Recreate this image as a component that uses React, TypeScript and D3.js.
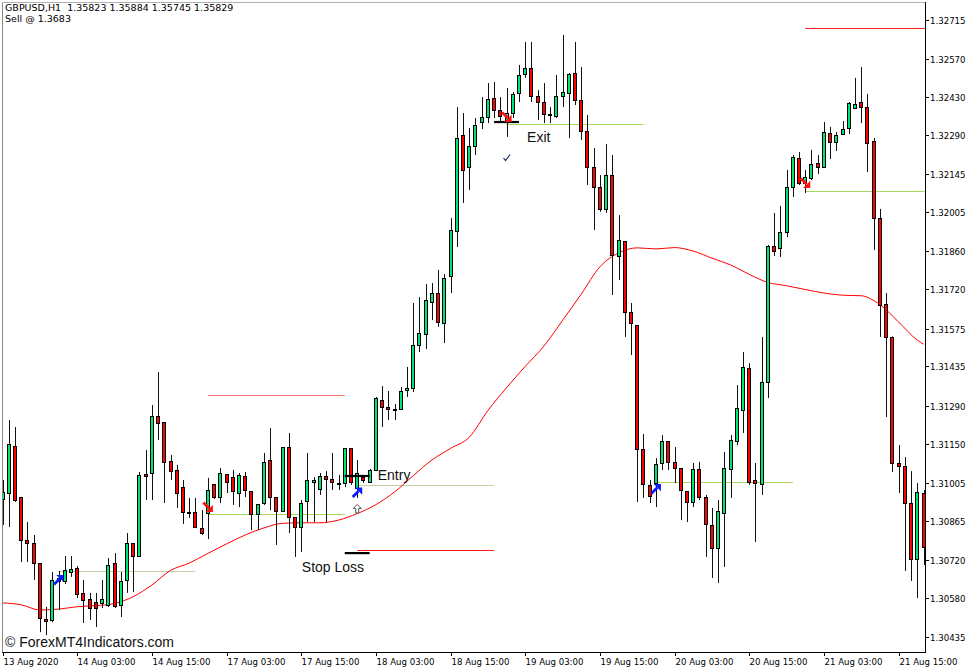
import React from 'react';
import * as d3 from 'd3';

// ---- GBPUSD H1 candles (bar 0 = 13 Aug 2020 15:00) ----
const open = [
  1.30945, 1.30967, 1.31141, 1.30952, 1.30793, 1.30782, 1.30708, 1.30501, 1.30498, 1.30642,
  1.30642, 1.30675, 1.30690, 1.30598, 1.30575, 1.30564, 1.30561, 1.30553, 1.30708, 1.30553,
  1.30646, 1.30782, 1.30734, 1.31037, 1.31041, 1.31252, 1.31229, 1.31085, 1.31052, 1.30989,
  1.30897, 1.30897, 1.30838, 1.30893, 1.31000, 1.30952, 1.31037, 1.31026, 1.30967, 1.31030,
  1.30974, 1.30889, 1.30930, 1.31089, 1.30952, 1.30901, 1.31137, 1.30878, 1.30841, 1.30938,
  1.31008, 1.30982, 1.31030, 1.31019, 1.31004, 1.31004, 1.31133, 1.30986, 1.31026, 1.31008,
  1.31052, 1.31311, 1.31285, 1.31277, 1.31277, 1.31348, 1.31355, 1.31514, 1.31555, 1.31673,
  1.31706, 1.31595, 1.31769, 1.31935, 1.32290, 1.32172, 1.32249, 1.32338, 1.32357, 1.32427,
  1.32382, 1.32345, 1.32371, 1.32445, 1.32515, 1.32538, 1.32434, 1.32412, 1.32368, 1.32360,
  1.32434, 1.32445, 1.32519, 1.32419, 1.32305, 1.32172, 1.32098, 1.32017, 1.32142, 1.31843,
  1.31898, 1.31636, 1.31588, 1.31130, 1.30997, 1.31004, 1.31078, 1.31159, 1.31082, 1.31059,
  1.30974, 1.30934, 1.31056, 1.30952, 1.30849, 1.30764, 1.30893, 1.31056, 1.31159, 1.31274,
  1.31429, 1.31015, 1.31000, 1.31377, 1.31880, 1.31872, 1.31932, 1.32098, 1.32205, 1.32113,
  1.32131, 1.32187, 1.32172, 1.32297, 1.32264, 1.32294, 1.32316, 1.32390, 1.32412, 1.32393,
  1.32268, 1.31983, 1.31666, 1.31544, 1.31078, 1.31067, 1.30930, 1.30723, 1.30967,
];
const high = [
  1.31015, 1.31237, 1.31211, 1.30952, 1.30860, 1.30812, 1.30708, 1.30546, 1.30675, 1.30679,
  1.30734, 1.30734, 1.30697, 1.30646, 1.30598, 1.30598, 1.30646, 1.30727, 1.30745, 1.30675,
  1.30819, 1.30782, 1.31045, 1.31126, 1.31292, 1.31414, 1.31229, 1.31108, 1.31071, 1.31015,
  1.30949, 1.30949, 1.30904, 1.31023, 1.31000, 1.31059, 1.31037, 1.31052, 1.31041, 1.31045,
  1.30974, 1.30926, 1.31115, 1.31207, 1.30952, 1.31137, 1.31189, 1.30878, 1.30941, 1.31115,
  1.31026, 1.31041, 1.31048, 1.31115, 1.31034, 1.31133, 1.31133, 1.31089, 1.31030, 1.31056,
  1.31322, 1.31362, 1.31344, 1.31296, 1.31359, 1.31433, 1.31669, 1.31691, 1.31739, 1.31743,
  1.31791, 1.31776, 1.31983, 1.32393, 1.32371, 1.32316, 1.32353, 1.32430, 1.32482, 1.32486,
  1.32430, 1.32464, 1.32449, 1.32549, 1.32634, 1.32634, 1.32456, 1.32482, 1.32393, 1.32512,
  1.32660, 1.32519, 1.32634, 1.32541, 1.32364, 1.32242, 1.32142, 1.32257, 1.32216, 1.31994,
  1.31898, 1.31669, 1.31588, 1.31185, 1.31015, 1.31096, 1.31181, 1.31159, 1.31137, 1.31059,
  1.30974, 1.31078, 1.31082, 1.30960, 1.30912, 1.30941, 1.31119, 1.31181, 1.31366, 1.31488,
  1.31447, 1.31078, 1.31544, 1.31884, 1.32002, 1.32028, 1.32161, 1.32216, 1.32227, 1.32161,
  1.32235, 1.32216, 1.32338, 1.32320, 1.32301, 1.32342, 1.32412, 1.32501, 1.32541, 1.32442,
  1.32279, 1.32017, 1.31706, 1.31546, 1.31144, 1.31100, 1.31048, 1.31004, 1.30978,
];
const low = [
  1.30849, 1.30841, 1.30934, 1.30712, 1.30712, 1.30646, 1.30453, 1.30442, 1.30490, 1.30535,
  1.30631, 1.30657, 1.30579, 1.30487, 1.30498, 1.30472, 1.30542, 1.30546, 1.30542, 1.30509,
  1.30598, 1.30601, 1.30731, 1.30941, 1.30941, 1.31163, 1.30930, 1.31015, 1.30912, 1.30853,
  1.30875, 1.30838, 1.30812, 1.30797, 1.30945, 1.30930, 1.30967, 1.30923, 1.30915, 1.30952,
  1.30830, 1.30830, 1.30923, 1.30904, 1.30775, 1.30897, 1.30819, 1.30731, 1.30749, 1.30860,
  1.30860, 1.30960, 1.30860, 1.30978, 1.30978, 1.30989, 1.30997, 1.30949, 1.31004, 1.31008,
  1.31048, 1.31211, 1.31237, 1.31237, 1.31274, 1.31322, 1.31340, 1.31488, 1.31499, 1.31606,
  1.31581, 1.31521, 1.31706, 1.31876, 1.32039, 1.32087, 1.32216, 1.32312, 1.32334, 1.32353,
  1.32338, 1.32283, 1.32353, 1.32412, 1.32501, 1.32412, 1.32345, 1.32334, 1.32334, 1.32353,
  1.32393, 1.32279, 1.32401, 1.32272, 1.32105, 1.31939, 1.32006, 1.32002, 1.31699, 1.31754,
  1.31544, 1.31477, 1.30934, 1.30949, 1.30930, 1.30915, 1.31052, 1.31052, 1.31004, 1.30867,
  1.30860, 1.30915, 1.30941, 1.30731, 1.30653, 1.30635, 1.30694, 1.30949, 1.31144, 1.31189,
  1.30997, 1.30786, 1.30960, 1.31318, 1.31843, 1.31839, 1.31913, 1.32061, 1.32105, 1.32076,
  1.32124, 1.32146, 1.32170, 1.32201, 1.32231, 1.32290, 1.32294, 1.32388, 1.32334, 1.32153,
  1.31865, 1.31544, 1.31248, 1.31045, 1.30967, 1.30679, 1.30642, 1.30579, 1.30701,
];
const close = [
  1.30971, 1.31148, 1.30941, 1.30793, 1.30782, 1.30708, 1.30505, 1.30494, 1.30646, 1.30653,
  1.30683, 1.30686, 1.30594, 1.30572, 1.30542, 1.30542, 1.30575, 1.30701, 1.30550, 1.30642,
  1.30782, 1.30734, 1.31034, 1.31030, 1.31252, 1.31226, 1.31082, 1.31048, 1.30967, 1.30897,
  1.30893, 1.30841, 1.30819, 1.30978, 1.30952, 1.31041, 1.31008, 1.30974, 1.31034, 1.30978,
  1.30889, 1.30926, 1.31082, 1.30952, 1.30901, 1.31137, 1.30878, 1.30841, 1.30930, 1.31015,
  1.31015, 1.31030, 1.31019, 1.31008, 1.31005, 1.31133, 1.31008, 1.31041, 1.31015, 1.31052,
  1.31318, 1.31285, 1.31277, 1.31278, 1.31344, 1.31355, 1.31514, 1.31558, 1.31680, 1.31706,
  1.31599, 1.31762, 1.31939, 1.32279, 1.32161, 1.32249, 1.32327, 1.32357, 1.32423, 1.32382,
  1.32360, 1.32371, 1.32442, 1.32512, 1.32538, 1.32434, 1.32412, 1.32368, 1.32369, 1.32434,
  1.32449, 1.32515, 1.32419, 1.32305, 1.32172, 1.32098, 1.32017, 1.32142, 1.31847, 1.31902,
  1.31636, 1.31595, 1.31130, 1.31000, 1.30956, 1.31074, 1.31159, 1.31082, 1.31059, 1.30978,
  1.30934, 1.31056, 1.30952, 1.30853, 1.30764, 1.30901, 1.31059, 1.31163, 1.31281, 1.31433,
  1.31008, 1.31004, 1.31377, 1.31880, 1.31861, 1.31932, 1.32098, 1.32209, 1.32113, 1.32135,
  1.32183, 1.32172, 1.32301, 1.32264, 1.32290, 1.32312, 1.32408, 1.32405, 1.32393, 1.32260,
  1.31983, 1.31662, 1.31544, 1.31078, 1.31067, 1.30930, 1.30723, 1.30971, 1.30768,
];

// ---- moving average (sampled at bars) ----
const maIdx = [0, 3, 6, 9, 12, 15, 18, 21, 24, 27, 30, 33, 36, 39, 42, 45, 48, 51, 54, 57, 60, 63, 66, 69, 72,
  75, 78, 81, 84, 87, 90, 93, 96, 99, 102, 105, 108, 111, 114, 117, 120, 123, 126, 129, 132, 135, 138, 141, 144, 147, 148];
const maVal = [1.30561, 1.30554, 1.30535, 1.30538, 1.30547, 1.30551, 1.30559, 1.30584, 1.30627, 1.30681,
  1.30708, 1.30744, 1.30779, 1.30812, 1.30838, 1.30855, 1.30857, 1.30857, 1.30867, 1.30891,
  1.30924, 1.30971, 1.31031, 1.31089, 1.31132, 1.31173, 1.31272, 1.31356, 1.31435, 1.31510,
  1.31605, 1.31702, 1.31803, 1.31854, 1.31873, 1.31869, 1.31874, 1.31861, 1.31835, 1.31810,
  1.31775, 1.31745, 1.31733, 1.31719, 1.31706, 1.31698, 1.31696, 1.31663, 1.31599, 1.31532, 1.31517];

// ---- axes ----
const priceTicks = [1.32715, 1.32570, 1.32430, 1.32290, 1.32145, 1.32005, 1.31860, 1.31720, 1.31575,
  1.31435, 1.31290, 1.31150, 1.31005, 1.30865, 1.30720, 1.30580, 1.30435];
const timeTickIdx = [0, 12, 24, 36, 48, 60, 72, 84, 96, 108, 120, 132, 144];
const timeTickLabels = ['13 Aug 2020', '14 Aug 03:00', '14 Aug 15:00', '17 Aug 03:00', '17 Aug 15:00',
  '18 Aug 03:00', '18 Aug 15:00', '19 Aug 03:00', '19 Aug 15:00', '20 Aug 03:00', '20 Aug 15:00',
  '21 Aug 03:00', '21 Aug 15:00'];

// ---- trade levels ----
const levelFrom = [9, 33, 33, 57, 57, 81, 105, 129, 129];
const levelTo = [31, 55, 55, 79, 79, 103, 127, 148.2, 148.2];
const levelPrice = [1.30679, 1.31329, 1.30889, 1.30756, 1.30997, 1.32330, 1.31007, 1.32084, 1.32684];
const levelKind = ['pale', 'lightred', 'green', 'red', 'pale', 'green', 'green', 'green', 'red'];

const markerFrom = [55, 55, 79];
const markerTo = [59, 59, 83];
const markerPrice = [1.31030, 1.30745, 1.32338];

const arrowIdx = [9, 33, 57, 57, 81, 81, 105, 129];
const arrowPrice = [1.30646, 1.30915, 1.30969, 1.30908, 1.32357, 1.32205, 1.30982, 1.32113];
const arrowKind = ['buy', 'sell', 'buy', 'hollow', 'sell', 'check', 'buy', 'sell'];

const noteText = ['Entry', 'Stop Loss', 'Exit'];
const noteIdx = [60.3, 48.1, 84.3];
const notePrice = [1.31015, 1.30675, 1.32266];

const header1 = 'GBPUSD,H1  1.35823 1.35884 1.35745 1.35829';
const header2 = 'Sell @ 1.3683';
const copyright = '\u00A9 ForexMT4Indicators.com';

const levelColor: Record<string, string> = {
  pale: '#c3d0a8',
  lightred: '#f07070',
  green: '#a9d65a',
  red: '#ff1a1a',
};

export default function App() {
  const W = 977, H = 672;
  const L = 2, R = 925, T = 2, B = 652;
  const x = d3.scaleLinear().domain([0, 148]).range([2.5, 923.5]);
  const y = d3.scaleLinear().domain([1.30435, 1.32715]).range([637, 20]);
  const axisFont = '"DejaVu Sans", Verdana, sans-serif';
  const textFont = '"Liberation Sans", Arial, sans-serif';

  const maPath = d3.line<number>()
    .x((_, k) => x(maIdx[k]))
    .y((d) => y(d))
    .curve(d3.curveMonotoneX)(maVal) || '';

  const bull = '#00e676';
  const bear = '#ff0000';

  const arrowShape = (kind: string, k: number) => {
    const cx = x(arrowIdx[k]);
    const cy = y(arrowPrice[k]);
    if (kind === 'buy') {
      return (
        <g key={'a' + k} transform={`translate(${cx},${cy})`}>
          <path d="M-4.5,4.5 L1.2,-1.2" stroke="#0a1aff" strokeWidth={2.8} />
          <path d="M5,-5 L5,2.2 L-2.2,-5 Z" fill="#0a1aff" />
        </g>
      );
    }
    if (kind === 'sell') {
      return (
        <g key={'a' + k} transform={`translate(${cx},${cy})`}>
          <path d="M-4.5,-4.5 L1.2,1.2" stroke="#ff1010" strokeWidth={2.8} />
          <path d="M5,5 L5,-2.2 L-2.2,5 Z" fill="#ff1010" />
        </g>
      );
    }
    if (kind === 'hollow') {
      return (
        <path key={'a' + k} transform={`translate(${cx},${cy})`}
          d="M0,-4.5 L4,-0.5 L1.5,-0.5 L1.5,4 L-1.5,4 L-1.5,-0.5 L-4,-0.5 Z"
          fill="#fff" stroke="#555" strokeWidth={1} />
      );
    }
    return (
      <path key={'a' + k} transform={`translate(${cx},${cy})`}
        d="M-3,0 L-1,2.5 L3.5,-3.5" fill="none" stroke="#1a2a6a" strokeWidth={1.2} />
    );
  };

  return (
    <svg width={W} height={H} style={{ position: 'absolute', left: 0, top: 0, background: '#fff' }}>
      <defs>
        <clipPath id="plotClip">
          <rect x={L} y={T} width={R - L} height={B - T} />
        </clipPath>
      </defs>
      <rect x={0} y={0} width={W} height={H} fill="#fff" />

      <g clipPath="url(#plotClip)">
        {/* trade levels */}
        {levelPrice.map((p, k) => (
          <line key={'lv' + k} x1={x(levelFrom[k])} x2={x(levelTo[k])}
            y1={Math.round(y(p)) + 0.5} y2={Math.round(y(p)) + 0.5}
            stroke={levelColor[levelKind[k]]} strokeWidth={1.2} />
        ))}

        {/* moving average */}
        <path d={maPath} fill="none" stroke="#ff0000" strokeWidth={1} />

        {/* candles */}
        {open.map((o, i) => {
          const c = close[i];
          const cx = Math.round(x(i));
          const yo = y(o), yc = y(c);
          const top = Math.round(Math.min(yo, yc));
          const bot = Math.round(Math.max(yo, yc));
          const up = c >= o;
          return (
            <g key={'c' + i}>
              <line x1={cx + 0.5} x2={cx + 0.5} y1={y(high[i])} y2={y(low[i])} stroke="#111" strokeWidth={1} />
              <rect x={cx - 1.5} y={top + 0.5} width={3} height={Math.max(bot - top, 1)}
                fill={up ? bull : bear} stroke="#000" strokeWidth={1} />
            </g>
          );
        })}

        {/* black trade markers */}
        {markerPrice.map((p, k) => (
          <line key={'mk' + k} x1={x(markerFrom[k])} x2={x(markerTo[k])} y1={y(p)} y2={y(p)}
            stroke="#000" strokeWidth={2.2} />
        ))}

        {/* arrows */}
        {arrowKind.map((kind, k) => arrowShape(kind, k))}

        {/* notes */}
        {noteText.map((t, k) => (
          <text key={'n' + k} x={x(noteIdx[k])} y={y(notePrice[k])} fontFamily={textFont}
            fontSize={14} fill="#111">{t}</text>
        ))}

        <text x={5} y={647} fontFamily={textFont} fontSize={14} fill="#111">{copyright}</text>
      </g>

      {/* header texts */}
      <text x={5} y={10.5} fontFamily={axisFont} fontSize={9.5} fill="#000" style={{ whiteSpace: 'pre' }}>{header1}</text>
      <text x={5} y={21.5} fontFamily={axisFont} fontSize={9.5} fill="#000">{header2}</text>

      {/* frame */}
      <line x1={L + 0.5} x2={L + 0.5} y1={T} y2={B} stroke="#8a8a8a" strokeWidth={1} />
      <line x1={L} x2={R} y1={T + 0.5} y2={T + 0.5} stroke="#b0b0b0" strokeWidth={1} />
      <line x1={R + 0.5} x2={R + 0.5} y1={T} y2={B + 1} stroke="#000" strokeWidth={1} />
      <line x1={L} x2={R + 1} y1={B + 0.5} y2={B + 0.5} stroke="#000" strokeWidth={1} />

      {/* price axis */}
      {priceTicks.map((p, k) => {
        const yy = Math.round(y(p)) + 0.5;
        return (
          <g key={'pt' + k}>
            <line x1={R + 1} x2={R + 4} y1={yy} y2={yy} stroke="#000" strokeWidth={1} />
            <text x={930} y={yy + 3} fontFamily={axisFont} fontSize={8.6} fill="#000">{p.toFixed(5)}</text>
          </g>
        );
      })}

      {/* time axis */}
      {timeTickIdx.map((ti, k) => {
        const xx = Math.round(x(ti)) + 0.5;
        return (
          <g key={'tt' + k}>
            <line x1={xx} x2={xx} y1={B + 1} y2={B + 4} stroke="#000" strokeWidth={1} />
            <text x={xx} y={665} fontFamily={axisFont} fontSize={8.6} fill="#000">{timeTickLabels[k]}</text>
          </g>
        );
      })}
    </svg>
  );
}
